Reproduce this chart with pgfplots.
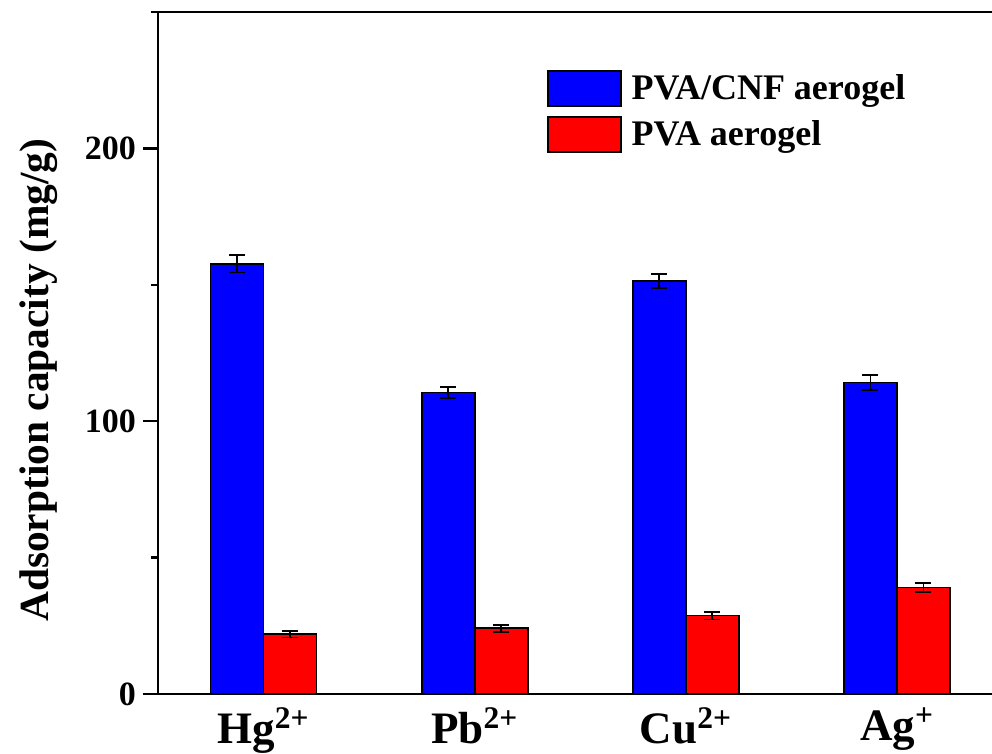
\documentclass[border=0pt]{standalone}
\usepackage{pgfplots}
\pgfplotsset{compat=1.18}
\usepackage{fontspec}
\setmainfont{Liberation Serif}
\begin{document}
\begin{tikzpicture}
\begin{axis}[
  at={(0,0)}, anchor=south west,
  scale only axis,
  width=417pt, height=341pt,
  xmin=0.5, xmax=4.45,
  ymin=0, ymax=250,
  axis lines=left,
  axis line style={-, line width=1.2pt, black},
  ybar=0pt,
  bar width=26.5pt,
  xtick={1,2,3,4},
  xticklabels={Hg\textsuperscript{2+},Pb\textsuperscript{2+},Cu\textsuperscript{2+},Ag\textsuperscript{+}},
  xtick style={draw=none},
  xticklabel style={font=\fontsize{22.5}{26}\selectfont\bfseries, yshift=4pt},
  ytick={0,100,200},
  minor ytick={50,150,250},
  tick align=outside,
  major tick length=7.5pt,
  minor tick length=3.5pt,
  ytick style={line width=1.2pt, black},
  /pgf/number format/assume math mode=true,
  yticklabel style={font=\fontsize{17}{20}\selectfont\bfseries},
  ylabel={Adsorption capacity (mg/g)},
  ylabel style={at={(axis description cs:-0.166,0.46)}, anchor=north, inner sep=0pt, font=\fontsize{20.7}{24}\selectfont\bfseries},
  legend style={at={(axis description cs:0.466,0.915)}, anchor=north west, draw=none, fill=none, inner sep=0pt,
    font=\fontsize{18}{21}\selectfont\bfseries, row sep=4.5pt,
    nodes={inner sep=1pt},
    /tikz/every odd column/.append style={column sep=4pt}},
  legend cell align=left,
  legend image code/.code={\draw[#1, line width=0.8pt] (0pt,-8.75pt) rectangle (36.5pt,8.75pt);},
  error bars/error bar style={line width=0.9pt, black},
  error bars/error mark options={rotate=90, mark size=4pt, line width=0.9pt, black},
]
\addplot[fill={rgb,255:red,0;green,0;blue,255}, draw=black, line width=0.8pt,
  error bars/.cd, y dir=both, y explicit]
  coordinates {(1,157.7) +- (0,3.2) (2,110.5) +- (0,1.9) (3,151.4) +- (0,2.7) (4,114.2) +- (0,2.8)};
\addplot[fill={rgb,255:red,255;green,0;blue,0}, draw=black, line width=0.8pt,
  error bars/.cd, y dir=both, y explicit]
  coordinates {(1,21.9) +- (0,1.2) (2,24.1) +- (0,1.3) (3,28.7) +- (0,1.4) (4,39.1) +- (0,1.7)};
\legend{PVA/CNF aerogel, PVA aerogel}
\draw[line width=1.2pt] (rel axis cs:0,1) -- (rel axis cs:1,1);
\end{axis}
\pgfresetboundingbox
\useasboundingbox (-79pt,-30pt) rectangle (417pt,347pt);
\end{tikzpicture}
\end{document}
